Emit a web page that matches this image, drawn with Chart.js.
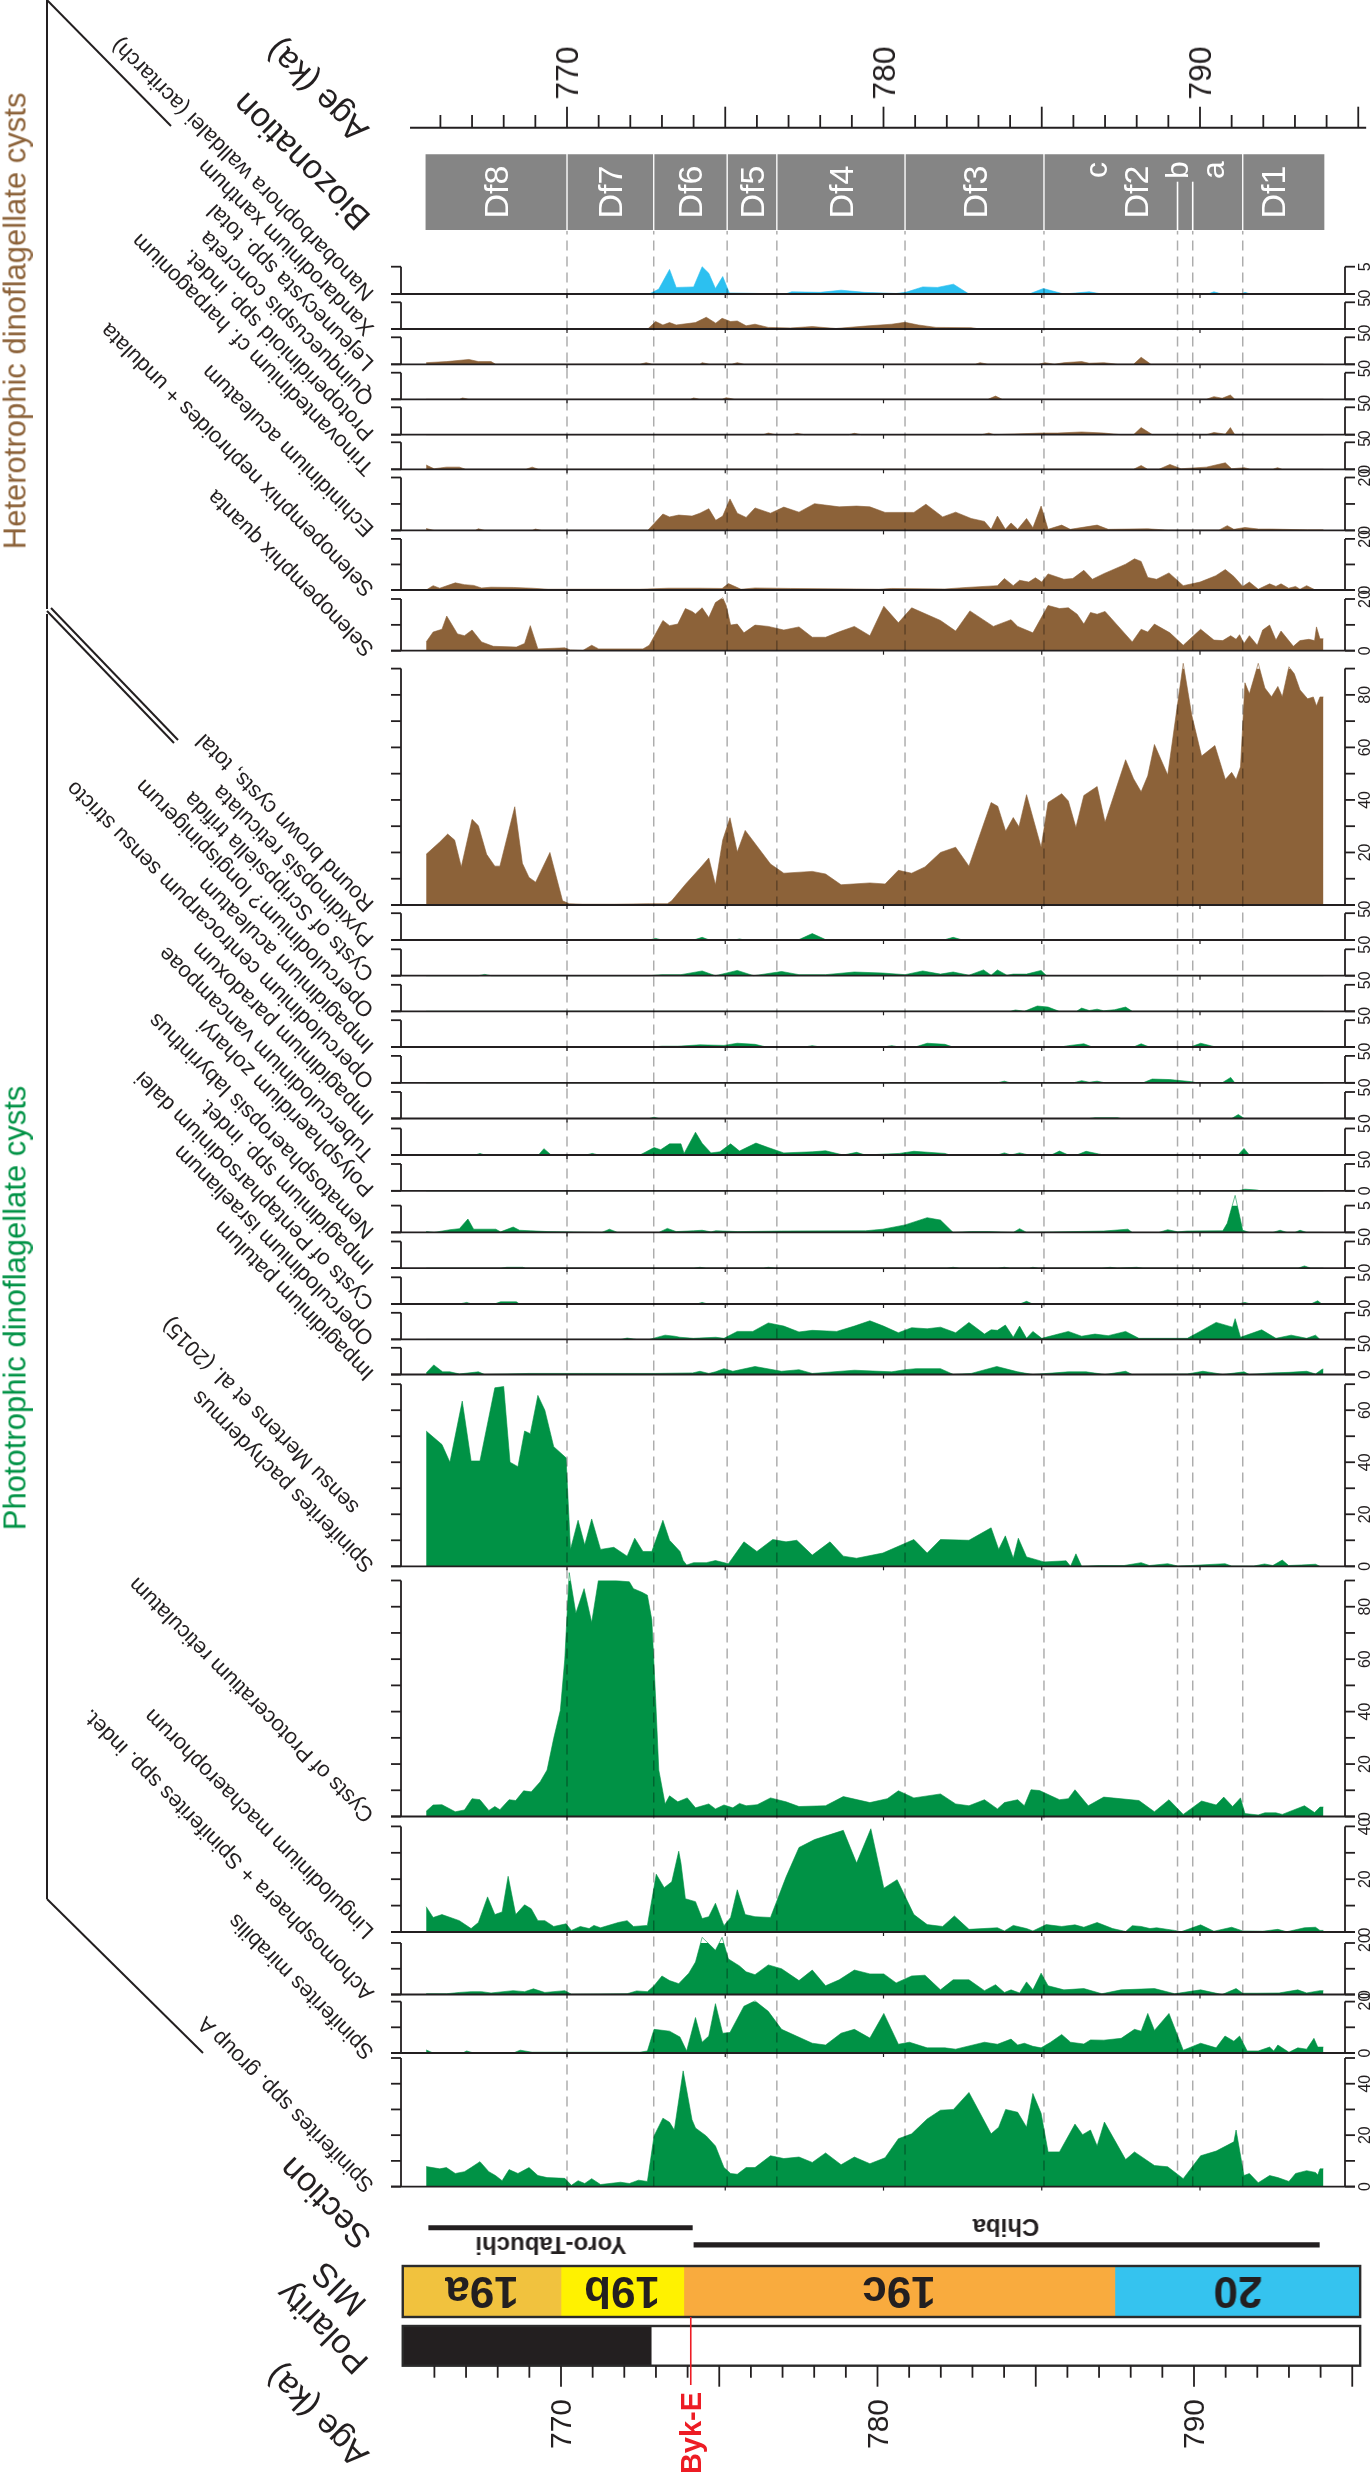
<!DOCTYPE html>
<html>
<head>
<meta charset="utf-8">
<script src="https://cdn.jsdelivr.net/npm/chart.js@4.4.1/dist/chart.umd.min.js"></script>
<style>
  html, body { margin: 0; padding: 0; background: #fff; }
  #page { position: relative; width: 1372px; height: 2482px; overflow: hidden;
          font-family: "Liberation Sans", Arial, sans-serif; color: #231f20; }
  #page canvas { position: absolute; }
  .diag { position: absolute; white-space: nowrap; transform-origin: 0 50%; transform: rotate(-135deg); }
  .rot { position: absolute; white-space: nowrap; line-height: 1; }
</style>
</head>
<body>
<div id="page"></div>
<script>
// ---- values: [age (ka), percent] ----
const nanobarbophora = [[765.6,0],[772.6,0],[772.9,0.9],[773.24,4.5],[773.45,1.2],[774.0,1.3],[774.27,5],[774.48,3.8],[774.69,1],[774.92,3.2],[775.13,0.2],[776.9,0],[777.1,0.4],[778.0,0.3],[778.66,0.7],[779.4,0.3],[780.4,0.1],[780.7,0.3],[781.24,1.3],[781.7,1.2],[782.21,1.8],[782.7,0],[784.6,0],[785.05,1],[785.7,0],[786.5,0.4],[786.9,0],[790.25,0],[790.44,0.4],[790.7,0],[791.3,0],[791.42,0.3],[791.6,0],[793.9,0]];
const xandarodinium = [[765.6,0],[772.55,0],[772.8,1.4],[773.03,0.75],[773.24,1.2],[773.45,0.75],[774.06,1.2],[774.4,2.2],[774.7,1.1],[774.9,2],[775.17,1.4],[775.38,1.5],[775.66,0.6],[775.94,0.9],[776.36,0.3],[777.06,0.2],[777.75,0.45],[778.5,0.1],[779.43,0.55],[780.26,0.9],[780.68,1.25],[781.1,0.75],[781.66,0.3],[782.77,0.25],[783.05,0],[793.9,0]];
const lejeunecysta = [[765.55,0.3],[766.2,0.5],[766.9,0.9],[767.2,0.5],[767.6,0.5],[767.75,0],[772.3,0],[772.5,0.3],[772.7,0],[774.2,0],[774.27,0.3],[774.5,0],[775.2,0],[775.38,0.3],[775.6,0],[782.9,0],[783.05,0.3],[783.3,0],[784.9,0],[785.1,0.3],[785.4,0],[785.7,0.3],[786.26,0.5],[786.5,0.2],[786.96,0.3],[787.4,0],[787.9,0],[788.14,1.3],[788.45,0],[793.9,0]];
const quinquecuspis = [[765.55,0],[766.6,0],[766.7,0.25],[766.9,0],[773.9,0],[774.0,0.25],[774.2,0],[774.9,0],[775.03,0.3],[775.3,0],[783.3,0],[783.54,0.6],[783.75,0],[790.2,0],[790.44,0.5],[790.7,0.2],[790.96,0.8],[791.1,0],[793.9,0]];
const protoperidinioid = [[765.55,0],[776.2,0],[776.36,0.3],[776.6,0],[777.1,0],[777.27,0.25],[777.5,0],[778.9,0],[779.08,0.25],[779.3,0],[783.1,0],[783.33,0.3],[783.5,0],[785.0,0.3],[785.5,0.3],[786.26,0.5],[786.96,0.3],[787.5,0],[787.9,0],[788.14,1.3],[788.5,0],[790.2,0],[790.44,0.4],[790.8,0.1],[790.96,1.3],[791.1,0],[793.9,0]];
const trinovantedinium = [[765.55,0.8],[765.8,0.1],[766.19,0.4],[766.6,0.4],[766.8,0],[768.7,0],[768.9,0.4],[769.1,0],[787.9,0],[788.14,0.7],[788.35,0],[788.7,0],[789.05,0.9],[789.4,0.1],[790.2,0.4],[790.8,1.2],[791.0,0.1],[791.4,0.3],[791.6,0],[792.3,0],[792.45,0.3],[792.6,0],[793.9,0]];
const echinidinium = [[765.55,0.7],[765.8,0],[767.1,0],[767.2,0.6],[767.4,0],[768.9,0],[769.0,0.5],[769.2,0],[772.55,0],[773.03,6.2],[773.24,5.1],[773.53,5.8],[773.95,5.4],[774.2,6.5],[774.48,8.2],[774.7,3.8],[774.92,5.4],[775.15,11.9],[775.38,6.5],[775.66,4.9],[775.94,8.5],[776.43,6.5],[776.85,8.8],[777.33,6.9],[777.82,10.1],[778.6,8.9],[779.15,9.2],[779.57,8.9],[780.05,6.8],[780.96,6.8],[781.34,9.9],[781.87,5.1],[782.28,6.9],[782.77,4.5],[783.19,3.4],[783.4,0.4],[783.6,5.4],[783.85,0.4],[784.03,2.8],[784.24,0.4],[784.52,4.5],[784.72,1.0],[784.98,9.2],[785.2,0.4],[785.63,2.0],[785.9,0.4],[786.0,0.6],[786.75,2.0],[787.1,0.4],[788.35,0.6],[789.0,0.1],[790.6,0.1],[790.86,1.8],[791.07,0.4],[791.42,1.1],[791.85,0.5],[792.26,0.5],[793.4,0.2],[793.9,0.2]];
const selenoNephroides = [[765.55,0],[765.77,1.7],[765.98,0.7],[766.47,2.8],[766.76,2.1],[767.05,1.8],[767.3,0.8],[767.6,1.1],[768.3,1.0],[768.9,0.7],[769.4,0.3],[772.3,0.3],[773.2,0.7],[774.2,0.7],[774.9,0.6],[775.1,2.5],[775.5,0.3],[775.94,0.8],[777.06,0.6],[779.15,0.4],[779.85,0.3],[780.26,0.6],[781.94,0.4],[782.63,1.0],[783.6,1.7],[783.82,4.5],[784.1,1.7],[784.3,3.8],[784.59,3.1],[784.8,4.8],[785.0,3.1],[785.2,6.3],[785.7,4.2],[785.98,4.5],[786.33,7.7],[786.6,4.2],[786.96,6.4],[787.65,10.1],[787.93,12.2],[788.14,11.2],[788.35,4.9],[788.63,4.2],[789.02,6.7],[789.47,1.7],[790.0,3.1],[790.5,5.6],[790.8,8.0],[791.07,5.3],[791.35,1.4],[791.56,3.1],[791.84,0.3],[792.2,2.4],[792.4,1.4],[792.56,2.4],[792.8,0.7],[793.02,1.4],[793.16,0.3],[793.37,1.7],[793.65,0]];
const selenoQuanta = [[765.55,3.4],[765.77,7.2],[766.05,8.3],[766.2,13.4],[766.54,6.5],[766.76,5.8],[767.0,8.0],[767.3,3.4],[767.67,1.7],[768.4,1.4],[768.66,2.8],[768.84,9.7],[769.08,0.7],[769.93,1.1],[770.1,0.3],[770.5,0.1],[770.78,2.1],[771.0,0.7],[772.4,0.7],[772.6,2.1],[773.03,11.7],[773.24,9.7],[773.5,10.3],[773.74,16.3],[773.95,15.2],[774.06,14.2],[774.27,16.6],[774.48,12.8],[774.69,18.6],[774.92,20.5],[775.03,17.5],[775.17,9.9],[775.38,10.3],[775.59,6.9],[775.94,9.9],[776.36,9.4],[776.85,8.0],[777.33,9.2],[777.75,5.2],[778.17,5.2],[778.6,7.3],[779.08,9.4],[779.57,5.8],[780.01,17.2],[780.47,10.8],[780.89,16.6],[781.8,11.7],[782.28,7.6],[782.73,15.4],[783.47,9.4],[784.03,12.0],[784.24,9.4],[784.72,6.9],[785.2,17.5],[785.56,16.3],[785.84,16.6],[786.12,14.1],[786.33,10.3],[786.54,14.8],[786.75,14.1],[787.0,15.2],[787.86,3.4],[788.14,8.3],[788.35,7.2],[788.56,10.3],[789.05,6.9],[789.47,2.1],[790.02,8.3],[790.44,4.1],[790.72,3.9],[790.97,5.8],[791.14,4.4],[791.25,6.2],[791.39,2.8],[791.56,5.8],[791.81,2.1],[791.98,8.0],[792.2,9.9],[792.4,4.1],[792.56,7.6],[792.95,1.7],[793.16,3.9],[793.44,4.4],[793.62,3.9],[793.68,9.2],[793.79,4.6],[793.9,4.6]];
const roundBrown = [[765.55,19.3],[765.98,24.0],[766.23,27.0],[766.45,24.7],[766.66,14.5],[767.0,32.6],[767.2,30.2],[767.46,19.3],[767.72,14.8],[767.88,14.8],[768.35,37.4],[768.59,15.9],[768.8,10.5],[769.01,8.7],[769.46,20.0],[769.86,1.6],[770.07,0.5],[770.5,0.3],[771.5,0.3],[772.6,0.5],[773.17,0.5],[773.3,1.5],[773.75,8],[774.2,14],[774.48,17.9],[774.69,7.7],[774.92,24.7],[775.15,33.2],[775.38,20.2],[775.63,28.4],[776.43,15.6],[776.85,12.1],[777.75,12.8],[778.17,11.8],[778.66,7.7],[779.57,8.4],[780.05,8.0],[780.47,13.2],[780.89,12.1],[781.31,14.5],[781.8,20.0],[782.28,22.0],[782.7,14.8],[783.4,39.0],[783.61,37.6],[783.86,28.1],[784.1,33.3],[784.28,29.8],[784.52,42.0],[784.98,22.0],[785.2,39.0],[785.63,42.4],[785.84,39.6],[786.08,29.5],[786.33,41.7],[786.75,45.1],[787.0,31.5],[787.65,55.3],[787.9,48.1],[788.14,43.1],[788.35,49.2],[788.56,61.1],[788.98,49.5],[789.47,92],[789.74,72.3],[790.05,56.7],[790.47,60.7],[790.8,47.8],[791.0,50.5],[791.14,47.8],[791.28,52.6],[791.42,84.6],[791.56,80.4],[791.84,92],[792.05,82.6],[792.26,79.3],[792.46,83.2],[792.6,79.3],[792.81,90.7],[792.98,88.0],[793.16,81.9],[793.4,78.5],[793.58,79.2],[793.68,75.8],[793.79,79.2],[793.9,79.2]];
const pyxidinopsis = [[765.55,0],[772.6,0],[772.8,0.3],[773.0,0],[774.0,0],[774.27,0.5],[774.5,0],[775.3,0],[775.45,0.2],[775.6,0],[777.3,0],[777.75,1.2],[778.2,0],[781.9,0],[782.2,0.5],[782.5,0],[793.9,0]];
const scrippsiella = [[765.55,0],[767.2,0],[767.4,0.25],[767.6,0],[772.6,0],[773.0,0.2],[773.6,0.2],[774.27,0.9],[774.69,0],[775.38,1.0],[775.9,0],[776.78,0.8],[777.33,0.2],[778.17,0.2],[779.08,0.7],[779.98,0.5],[780.68,0.2],[781.24,0.9],[781.8,0.3],[782.2,0.7],[782.7,0.1],[783.16,1.1],[783.4,0.1],[783.6,1.1],[783.9,0.1],[784.1,0.3],[784.52,0.3],[784.98,1.0],[785.15,0],[793.9,0]];
const longispinigerum = [[765.55,0],[784.0,0],[784.17,0.25],[784.45,0],[784.86,1.0],[785.2,0.8],[785.55,0],[786.1,0],[786.26,0.6],[786.5,0.15],[786.75,0.4],[786.96,0.1],[787.3,0.3],[787.65,0.8],[787.86,0],[793.9,0]];
const impAculeatum = [[765.55,0],[772.7,0],[773.0,0.15],[773.5,0.15],[774.2,0.4],[774.96,0.3],[775.38,0.7],[775.94,0.5],[776.3,0],[777.5,0],[777.75,0.25],[778.0,0],[780.0,0],[780.26,0.25],[780.5,0],[781.0,0],[781.38,0.7],[781.94,0.5],[782.2,0],[785.6,0],[785.84,0.25],[786.33,0.6],[786.6,0],[787.9,0],[788.14,0.6],[788.4,0],[789.7,0],[790.02,0.7],[790.5,0],[793.9,0]];
const centrocarpum = [[765.55,0],[783.6,0],[783.82,0.3],[784.0,0],[786.0,0],[786.26,0.4],[786.5,0.1],[786.75,0.3],[787.0,0],[788.2,0],[788.49,0.7],[789.05,0.6],[789.74,0.2],[789.9,0],[790.7,0],[790.97,1.0],[791.1,0],[793.9,0]];
const paradoxum = [[765.55,0],[772.6,0],[772.75,0.25],[772.9,0],[786.5,0],[786.68,0.15],[787.4,0.15],[787.5,0],[791.0,0],[791.21,0.75],[791.4,0],[793.9,0]];
const tuberculodinium = [[765.55,0],[767.1,0],[767.25,0.3],[767.4,0],[769.1,0],[769.27,1.2],[769.5,0],[770.6,0],[770.8,0.3],[771.0,0],[772.3,0],[772.4,0.3],[772.75,1.4],[772.96,1.0],[773.24,2.1],[773.6,2.1],[773.7,0.3],[774.06,4.3],[774.27,2.2],[774.55,0.4],[774.83,0.6],[775.17,2.1],[775.45,0.75],[775.97,2.25],[776.36,1.4],[776.85,0.4],[777.75,0.6],[778.17,0.8],[778.73,0],[779.15,0.5],[779.43,0],[780.5,0.3],[780.96,0.7],[781.94,0.3],[782.1,0],[783.6,0],[783.82,0.4],[784.03,0],[784.3,0.4],[784.6,0],[785.3,0],[785.56,0.75],[785.84,0],[786.1,0],[786.4,0.7],[786.8,0.2],[786.96,0],[791.2,0],[791.39,1.25],[791.56,0],[793.9,0]];
const polysphaeridium = [[765.55,0],[791.2,0],[791.42,0.3],[791.8,0.15],[791.9,0],[793.9,0]];
const nematosphaeropsis = [[765.55,0.15],[765.8,0],[766.3,0.5],[766.6,0.7],[766.87,2.5],[767.05,0.6],[767.75,0.6],[767.9,0.1],[768.3,1.0],[768.5,0.4],[768.84,0.3],[769.4,0.15],[771.1,0],[771.34,0.6],[771.6,0],[772.9,0],[773.17,0.75],[773.45,0.15],[774.0,0.3],[774.27,0.4],[774.55,0.1],[774.7,0.3],[775.4,0.15],[776.78,0.25],[779.43,0.3],[779.98,0.6],[780.68,1.4],[781.38,2.75],[781.8,2.3],[782.2,0],[782.77,0.15],[783.33,0.15],[784.1,0],[784.3,0.7],[784.52,0],[786.96,0.25],[787.72,0.6],[787.86,0],[788.7,0],[788.98,0.5],[789.3,0.1],[789.6,0.25],[790.72,0.3],[790.86,1.7],[791.11,6.9],[791.35,0.4],[791.56,0],[792.3,0],[792.53,0.4],[792.75,0],[793.0,0],[793.16,0.4],[793.37,0],[793.9,0]];
const impIndet = [[765.55,0],[767.9,0],[768.1,0.15],[768.6,0.15],[768.7,0],[774.0,0],[774.2,0.15],[774.4,0],[776.2,0],[776.36,0.15],[776.6,0],[782.0,0],[782.2,0.15],[782.4,0],[783.6,0],[783.82,0.15],[784.0,0],[784.6,0],[784.72,0.15],[784.9,0],[786.9,0],[787.16,0.15],[787.4,0],[788.0,0.15],[788.2,0],[793.1,0],[793.3,0.4],[793.5,0],[793.9,0]];
const pentapharsodinium = [[765.55,0],[766.6,0],[766.83,0.3],[767.0,0],[767.7,0],[767.9,0.4],[768.4,0.4],[768.5,0],[774.1,0],[774.27,0.3],[774.45,0],[784.3,0],[784.52,0.5],[784.72,0],[791.2,0],[791.42,0.3],[791.6,0],[793.5,0],[793.72,0.6],[793.85,0],[793.9,0]];
const israelianum = [[765.55,0],[771.7,0],[771.9,0.25],[772.2,0],[772.6,0],[773.1,0.8],[773.4,0.6],[773.57,0.4],[773.99,0.2],[774.7,0.4],[774.96,0.2],[775.38,1.5],[775.87,1.5],[776.36,3.1],[776.85,2.5],[777.33,1.4],[777.75,1.7],[778.52,1.5],[779.08,2.5],[779.57,3.5],[780.0,2.5],[780.47,1.25],[780.89,2.2],[781.38,2.0],[781.8,2.3],[782.28,1.25],[782.7,3.2],[783.19,1.0],[783.4,1.8],[783.6,1.7],[783.85,2.7],[784.1,0.4],[784.3,2.5],[784.52,0.2],[784.72,1.5],[785.0,0.2],[785.84,1.5],[786.26,0.6],[786.68,1.0],[787.1,0.7],[787.65,1.5],[788.07,0.2],[789.6,0.2],[790.0,1.5],[790.51,3.2],[791.03,2.3],[791.11,3.9],[791.28,0.4],[791.95,1.8],[792.4,0.2],[792.88,0.8],[793.37,0.2],[793.65,0.8],[793.79,0]];
const patulum = [[765.55,0.3],[765.79,1.8],[766.07,0.5],[766.3,0.5],[766.6,0.1],[767.2,0.5],[767.4,0],[768.8,0.2],[770.53,0.2],[772.8,0.2],[773.97,0.3],[774.2,0.6],[774.48,0.2],[774.69,0.5],[774.96,1.1],[775.24,0.6],[775.94,1.5],[776.78,0.6],[777.33,0.9],[777.75,0.2],[779.08,0.8],[780.26,0.5],[780.68,0.9],[781.03,1.1],[781.8,1.1],[782.21,0],[782.77,0.2],[783.58,1.5],[784.24,0.5],[784.72,0],[785.84,0.5],[786.4,0.5],[787.0,0],[787.65,0.6],[787.86,0],[789.6,0.1],[790.09,0.6],[790.44,0.3],[790.72,0],[791.39,0.5],[791.56,0],[792.25,0.3],[792.81,0.4],[793.37,0.6],[793.65,0.1],[793.86,1.0],[793.9,1.0]];
const pachydermus = [[765.55,52],[766.05,46.8],[766.3,40],[766.69,63.5],[766.97,40.5],[767.25,40.5],[767.72,68.6],[768.0,69.1],[768.2,40],[768.45,38.3],[768.66,52],[768.84,51],[769.08,65.7],[769.3,60],[769.58,46],[769.97,41.7],[770.11,6.5],[770.35,17.7],[770.56,8.2],[770.78,18.2],[771.06,6.5],[771.48,7.3],[771.9,3.9],[772.14,10.8],[772.4,5.7],[772.68,5.7],[773.03,17.7],[773.24,10],[773.57,5.7],[773.67,2.2],[773.78,0.5],[774.0,1.4],[774.4,1.4],[774.69,2.2],[775.1,1.0],[775.59,9.4],[776.0,5.7],[776.5,10.3],[776.92,9.4],[777.26,10],[777.75,4.3],[778.31,9.4],[778.73,3.9],[779.15,3.1],[779.98,5.1],[780.96,10.3],[781.38,5.1],[781.8,10.3],[782.7,10],[783.4,14.8],[783.64,6.5],[783.85,11.7],[784.1,3.1],[784.26,10.8],[784.52,3.6],[785.07,1.7],[785.77,2.1],[785.91,0],[786.08,4.8],[786.26,0],[786.82,0.3],[787.6,0.3],[788.14,1.4],[788.4,0.3],[788.98,1.0],[789.3,0.1],[789.7,0.3],[790.79,1.0],[791.0,0.1],[791.7,0.1],[792.04,0.9],[792.3,0.3],[792.6,2.4],[792.8,0.3],[793.2,0.5],[793.65,0.8],[793.79,0]];
const protoceratium = [[765.55,2],[765.77,4.4],[766.05,4.5],[766.47,1.8],[766.76,2.5],[767.0,6.8],[767.25,6.4],[767.53,2.3],[767.72,3.8],[767.88,2.6],[768.17,6.4],[768.38,6.1],[768.63,9.8],[768.87,9.4],[769.15,13.2],[769.37,17.7],[769.58,29.8],[769.79,40.5],[769.93,60],[770.07,93],[770.28,77.5],[770.54,86.9],[770.78,74],[770.99,89.9],[771.55,89.9],[771.97,89.5],[772.1,86.9],[772.37,85.5],[772.54,84.4],[772.68,75],[772.8,45],[772.9,17.7],[773.1,4.8],[773.24,7.9],[773.5,5.6],[773.8,7.1],[774.06,3.3],[774.48,4.8],[774.69,2.9],[774.96,4.4],[775.24,3.3],[775.45,5.0],[775.66,4.1],[776.01,4.5],[776.43,7.1],[776.92,5.6],[777.33,3.8],[778.17,4.1],[778.73,7.6],[779.57,5.3],[780.12,6.8],[780.47,9.8],[780.96,7.1],[781.8,8.6],[782.28,4.8],[782.7,4.1],[783.19,6.4],[783.6,2.9],[783.82,5.3],[784.24,6.4],[784.45,4.1],[784.66,10.2],[784.93,9.9],[785.56,6.4],[785.84,6.8],[786.05,10.2],[786.47,4.1],[786.96,7.4],[788.07,6.1],[788.56,1.8],[789.02,6.4],[789.47,0.8],[790.05,5.9],[790.51,4.4],[790.75,7.4],[791.03,3.8],[791.28,7.1],[791.42,1.1],[791.84,0.6],[792.05,1.4],[792.4,1.4],[792.6,0.8],[793.3,4.1],[793.62,1.5],[793.79,3.6],[793.9,3.6]];
const lingulodinium = [[765.55,9.6],[765.77,5.5],[766.05,6.6],[766.6,4.3],[766.97,1.3],[767.2,3.6],[767.49,13.3],[767.72,6.6],[767.95,7.6],[768.14,21.1],[768.38,6.6],[768.66,10.3],[768.87,8.8],[769.08,4.3],[769.3,4.3],[769.58,2.1],[769.97,3.1],[770.14,0.6],[770.42,2.1],[770.7,1.3],[770.85,2.5],[771.06,1.6],[771.62,3.6],[771.9,4.3],[772.1,2.1],[772.54,2.5],[772.82,21.9],[773.07,16.8],[773.31,19],[773.53,30.6],[773.6,26.1],[773.74,12.6],[774.06,11.5],[774.27,5.1],[774.48,5.8],[774.69,10.9],[774.96,2.4],[775.17,5.5],[775.38,16],[775.63,6.6],[775.94,5.8],[776.43,5.5],[776.92,20.8],[777.33,32],[777.82,35],[778.73,38.5],[779.15,26.1],[779.6,39.1],[780.01,16.6],[780.43,19.8],[780.96,6.6],[781.38,2.8],[781.87,2.1],[782.24,6.1],[782.7,1.0],[783.6,1.6],[783.82,0.4],[784.1,2.5],[784.52,1.3],[784.72,0.4],[785.14,2.8],[785.63,2.1],[786.05,2.7],[786.33,1.8],[786.75,3.6],[787.24,1.3],[787.65,0.2],[787.86,2.4],[788.14,2.1],[788.42,1.3],[788.63,1.6],[789.2,0.6],[789.4,0.1],[790.02,2.7],[790.44,0.3],[791.0,1.8],[791.35,0.4],[791.98,0.3],[792.46,1.0],[792.74,0.1],[793.3,1.6],[793.65,1.8],[793.79,0.6],[793.9,0.6]];
const achomosphaera = [[765.55,0.3],[766.2,0.3],[766.6,0.8],[766.97,1.1],[767.3,1.1],[767.6,0.6],[768.3,1.5],[768.66,1.1],[768.94,2.2],[769.3,0.8],[769.93,1.5],[770.14,0.1],[771.9,0.3],[772.2,1.4],[772.54,1.1],[772.75,3.4],[773.0,7.2],[773.24,5.4],[773.53,4.2],[773.85,8.3],[774.06,12.6],[774.27,22.2],[774.69,17.2],[774.9,22.2],[775.1,13.8],[775.45,11.1],[775.66,8.8],[775.94,7.7],[776.36,11.5],[776.78,10],[777.33,5.4],[777.75,9.5],[778.17,3.4],[778.6,5.7],[779.08,9.5],[779.57,8.0],[780.01,8.0],[780.4,4.5],[780.89,7.2],[781.31,7.5],[781.8,1.8],[782.2,5.7],[782.7,5.7],[783.19,1.5],[783.54,3.8],[783.82,0.8],[784.03,1.8],[784.3,0.6],[784.52,4.9],[784.72,1.8],[784.98,8.3],[785.2,3.4],[785.7,1.8],[786.33,2.3],[786.9,0.3],[787.51,1.8],[788.56,2.3],[789.2,0.3],[790.02,1.8],[790.7,0],[791.14,2.3],[791.35,0.5],[791.8,0.5],[792.5,0.6],[793.09,1.8],[793.37,0.6],[793.79,1.5],[793.9,1.5]];
const mirabilis = [[765.55,1.2],[765.77,0],[766.7,0],[766.83,0.8],[767.05,0],[768.3,0],[768.52,1.1],[768.9,0.3],[772.3,0.3],[772.54,0.8],[772.75,9.2],[773.24,8.5],[773.57,6.2],[773.78,0.8],[774.06,13.8],[774.27,4.2],[774.48,6.6],[774.69,19.2],[774.92,7.7],[775.15,8.0],[775.59,18.2],[775.94,20.3],[776.36,16.2],[776.78,9.2],[777.75,3.8],[778.17,3.1],[778.66,7.7],[779.08,9.2],[779.57,5.8],[780.01,15.4],[780.47,3.4],[780.82,4.2],[781.38,2.0],[781.94,2.0],[782.28,1.5],[783.19,4.2],[783.6,3.4],[784.03,5.4],[784.24,3.1],[784.45,3.8],[784.72,2.6],[784.98,2.0],[785.28,4.2],[785.63,7.2],[785.91,4.2],[786.33,3.5],[786.54,5.1],[786.96,5.0],[787.51,5.7],[787.93,9.2],[788.14,8.5],[788.35,15.4],[788.56,8.8],[789.02,15.4],[789.47,1.1],[790.02,3.8],[790.51,2.0],[790.79,6.6],[791.07,4.6],[791.25,6.6],[791.49,0.8],[791.84,0.8],[792.2,2.3],[792.33,0.8],[792.46,3.1],[792.81,0.3],[793.09,2.0],[793.37,1.5],[793.6,5.7],[793.72,2.3],[793.9,2.3]];
const groupA = [[765.55,7.8],[765.98,6.9],[766.19,7.4],[766.47,5.1],[766.76,5.8],[766.97,7.4],[767.25,9.7],[767.53,5.8],[767.74,4.3],[767.95,2.3],[768.17,6.6],[768.45,5.1],[768.8,7.4],[769.08,4.3],[769.37,3.5],[769.93,3.2],[770.14,0.5],[770.35,2.3],[770.56,1.2],[770.78,3.1],[771.06,0.8],[771.69,1.7],[771.97,1.2],[772.26,2.5],[772.54,2.0],[772.75,19.7],[773.03,26.6],[773.24,25],[773.39,22],[773.67,45],[773.95,26],[774.06,22.8],[774.4,19.7],[774.69,15.8],[774.96,7.4],[775.17,5.1],[775.38,4.8],[775.66,7.4],[775.94,7.4],[776.43,12],[776.85,10.9],[777.33,11.5],[777.75,9.4],[778.17,13.1],[778.66,8.5],[779.08,11.5],[779.57,8.9],[780.05,11.2],[780.47,18.6],[780.89,20.5],[781.38,26.3],[781.8,29.7],[782.21,30],[782.7,36.6],[783.4,20.5],[783.64,23.1],[783.86,30],[784.24,28.9],[784.52,23.1],[784.72,36.2],[784.98,28.5],[785.2,13.5],[785.56,13.5],[786.05,24.3],[786.29,20.2],[786.54,22],[786.75,15.8],[786.98,25.1],[787.65,10.5],[787.93,13.5],[788.56,8.2],[788.98,7.7],[789.47,3.1],[790.02,12],[790.51,13.8],[791.07,17.4],[791.14,22],[791.39,4.3],[791.56,5.1],[791.84,1.5],[792.2,4.3],[792.46,3.5],[792.81,2.0],[793.02,5.1],[793.37,6.2],[793.65,5.5],[793.72,4.5],[793.79,6.9],[793.9,6.9]];

// zonation, stages, polarity, sections (ages in ka)
const zoneBounds = [765.51, 770.0, 772.74, 775.06, 776.63, 780.68, 785.07, 791.35, 793.95];
const zoneNames = ['Df8', 'Df7', 'Df6', 'Df5', 'Df4', 'Df3', 'Df2', 'Df1'];
const zoneLabelAges = [767.76, 771.37, 773.9, 775.85, 778.66, 782.88, 787.97, 792.3];
const subzoneNames = ['c', 'b', 'a'];
const subzoneLabelAges = [786.71, 789.26, 790.41];
const subzoneBounds = [789.29, 789.77];
const zoneLines = [770.0, 772.74, 775.06, 776.63, 780.68, 785.07, 789.29, 789.77, 791.35];
const misBounds = [765.0, 770.0, 773.88, 787.5, 795.25];
const misNames = ['19a', '19b', '19c', '20'];
const polarityBounds = [765.0, 772.85, 795.25];
const sectionNames = ['Yoro-Tabuchi', 'Chiba'];
const sectionRanges = [[765.82, 774.15], [774.2, 793.96]];
const bykeAge = 774.1;
const ageTicks = [766, 767, 768, 769, 770, 771, 772, 773, 774, 775, 776, 777, 778, 779, 780, 781, 782, 783, 784, 785, 786, 787, 788, 789, 790, 791, 792, 793, 794, 795];
const ageLabels = [770, 780, 790];
const baseTicks = [770, 775, 780, 785, 790];

// ---- colours / layout ----
const BROWN = '#8c6239', GREEN = '#009245', BLUE = '#2cc0f0', INK = '#231f20';
const MIS_COLORS = ['#f1c23e', '#fff200', '#f9ab3e', '#35c3ef'];
const PAGE_W = 1372;
const X770 = 567, PXK = 31.65;          // pixel of 770 ka, pixels per ka
const AX_L = 401, AX_R = 1345;          // left / right strip axes
const BSHIFT = -6;                      // lower block is set a few px left
const px = a => X770 + (a - 770) * PXK;
const ageAt = x => 770 + (x - X770) / PXK;
const XMIN = ageAt(AX_L), XMAX = ageAt(AX_R);

Chart.defaults.font.family = '"Liberation Sans", Arial, sans-serif';
const page = document.getElementById('page');

function addCanvas(l, t, w, h) {
  const c = document.createElement('canvas');
  c.width = w; c.height = h;
  c.style.left = l + 'px'; c.style.top = t + 'px';
  c.style.width = w + 'px'; c.style.height = h + 'px';
  page.appendChild(c);
  return c;
}
function baseOpts(extra) {
  return Object.assign({
    responsive: false, animation: false, events: [], devicePixelRatio: 1,
    plugins: { legend: { display: false }, tooltip: { enabled: false } }
  }, extra);
}
function line(ctx, x1, y1, x2, y2) { ctx.beginPath(); ctx.moveTo(x1, y1); ctx.lineTo(x2, y2); ctx.stroke(); }

// ---- the strips ----
const HET = [
  { name: 'Nanobarbophora walldalei (acritarch)', data: nanobarbophora, top: 266.7, base: 294.0, max: 5, color: BLUE },
  { name: 'Xandarodinium xanthum', data: xandarodinium, top: 302.3, base: 329.0, max: 5 },
  { name: 'Lejeunecysta spp. total', data: lejeunecysta, top: 337.3, base: 364.3, max: 5 },
  { name: 'Quinquecuspis concreta', data: quinquecuspis, top: 372.7, base: 399.3, max: 5 },
  { name: 'Protoperidinioid spp. indet.', data: protoperidinioid, top: 407.3, base: 434.7, max: 5 },
  { name: 'Trinovantedinium cf. harpagonium', data: trinovantedinium, top: 442.3, base: 469.3, max: 5 },
  { name: 'Echinidinium aculeatum', data: echinidinium, top: 477.5, base: 530.4, max: 20 },
  { name: 'Selenopemphix nephroides + undulata', data: selenoNephroides, top: 538.9, base: 590.0, max: 20 },
  { name: 'Selenopemphix quanta', data: selenoQuanta, top: 599.0, base: 650.7, max: 20 },
  { name: 'Round brown cysts, total', data: roundBrown, top: 668.6, base: 905.0, max: 90 }
];
const PHO = [
  { name: 'Pyxidinopsis reticulata', data: pyxidinopsis, top: 913.2, base: 940.0, max: 5 },
  { name: 'Cysts of Scrippsiella trifida', data: scrippsiella, top: 949.3, base: 975.7, max: 5 },
  { name: 'Operculodinium? longispinigerum', data: longispinigerum, top: 984.8, base: 1011.3, max: 5 },
  { name: 'Impagidinium aculeatum', data: impAculeatum, top: 1020.2, base: 1047.0, max: 5 },
  { name: 'Operculodinium centrocarpum sensu stricto', data: centrocarpum, top: 1055.9, base: 1082.8, max: 5 },
  { name: 'Impagidinium paradoxum', data: paradoxum, top: 1092.0, base: 1118.5, max: 5 },
  { name: 'Tuberculodinium vancampoae', data: tuberculodinium, top: 1128.5, base: 1155.0, max: 5 },
  { name: 'Polysphaeridium zoharyi', data: polysphaeridium, top: 1164.0, base: 1190.8, max: 5 },
  { name: 'Nematosphaeropsis labyrinthus', data: nematosphaeropsis, top: 1205.6, base: 1232.4, max: 5 },
  { name: 'Impagidinium spp. indet.', data: impIndet, top: 1241.5, base: 1268.1, max: 5 },
  { name: 'Cysts of Pentapharsodinium dalei', data: pentapharsodinium, top: 1277.3, base: 1304.0, max: 5 },
  { name: 'Operculodinium israelianum', data: israelianum, top: 1312.8, base: 1339.4, max: 5 },
  { name: 'Impagidinium patulum', data: patulum, top: 1347.8, base: 1374.5, max: 5 },
  { name: 'Spiniferites pachydermus', name2: 'sensu Mertens et al. (2015)', data: pachydermus, top: 1384.2, base: 1566.3, max: 70 },
  { name: 'Cysts of Protoceratium reticulatum', data: protoceratium, top: 1580.5, base: 1816.5, max: 90 },
  { name: 'Lingulodinium machaerophorum', data: lingulodinium, top: 1826.4, base: 1932.0, max: 40 },
  { name: 'Achomosphaera + Spiniferites spp. indet.', data: achomosphaera, top: 1943.0, base: 1994.5, max: 20 },
  { name: 'Spiniferites mirabilis', data: mirabilis, top: 2001.6, base: 2053.0, max: 20 },
  { name: 'Spiniferites spp. group A', data: groupA, top: 2058.0, base: 2186.6, max: 50 }
];
HET.forEach(s => { if (!s.color) s.color = BROWN; });
PHO.forEach(s => { s.color = GREEN; });

const STRIP_LEFT = 380, PADV = 10;

function stripFrame(s) {
  const step = s.max === 5 ? 5 : 10;
  const ticks = [], labels = [];
  for (let v = 0; v <= s.max + 0.001; v += step) {
    ticks.push(v);
    if (s.max === 5 || v % 20 === 0) labels.push(v);
  }
  return {
    id: 'stripFrame',
    afterDatasetsDraw(chart) {
      const { ctx, chartArea: a, scales: { x, y } } = chart;
      const y0 = y.getPixelForValue(0), yT = y.getPixelForValue(s.max);
      ctx.save();
      ctx.strokeStyle = INK; ctx.lineWidth = 1.8; ctx.lineCap = 'butt';
      line(ctx, a.left - 10, y0, a.right + 10, y0);
      line(ctx, a.left, y0, a.left, yT);
      line(ctx, a.right, y0, a.right, yT);
      ticks.forEach(v => {
        const yy = y.getPixelForValue(v);
        line(ctx, a.left - 10, yy, a.left, yy);
        line(ctx, a.right, yy, a.right + 10, yy);
      });
      ctx.lineWidth = 1.2;
      baseTicks.forEach(t => { const xx = x.getPixelForValue(t); line(ctx, xx, y0, xx, y0 + 4); });
      ctx.fillStyle = INK;
      ctx.font = '16px "Liberation Sans", Arial, sans-serif';
      ctx.textAlign = 'center'; ctx.textBaseline = 'middle';
      labels.forEach(v => {
        ctx.save();
        ctx.translate(a.right + 21, y.getPixelForValue(v));
        ctx.rotate(-Math.PI / 2);
        ctx.fillText(String(v), 0, 0);
        ctx.restore();
      });
      ctx.restore();
    }
  };
}

function stripChart(s) {
  const top = Math.floor(s.top - PADV), h = Math.ceil(s.base + PADV) - top;
  const cv = addCanvas(STRIP_LEFT, top, PAGE_W - STRIP_LEFT, h);
  new Chart(cv, {
    type: 'line',
    data: { datasets: [{
      data: s.data.map(([a, v]) => ({ x: a, y: v })),
      fill: 'origin', backgroundColor: s.color, borderColor: s.color,
      borderWidth: 0.6, pointRadius: 0, tension: 0, clip: false
    }] },
    options: baseOpts({
      layout: { padding: { left: AX_L - STRIP_LEFT, right: PAGE_W - AX_R, top: s.top - top, bottom: top + h - s.base } },
      scales: {
        x: { type: 'linear', min: XMIN, max: XMAX, display: false },
        y: { type: 'linear', min: 0, max: s.max, display: false }
      }
    }),
    plugins: [stripFrame(s)]
  });
}
HET.concat(PHO).forEach(stripChart);

// ---- biozonation boxes + top age axis ----
(function () {
  const H = 240, boxTop = 153.7, boxBot = 230.7;
  const cv = addCanvas(STRIP_LEFT, 0, PAGE_W - STRIP_LEFT, H);
  new Chart(cv, {
    type: 'bar',
    data: { labels: ['zone'], datasets: zoneNames.map((n, i) => ({
      label: n, data: [[zoneBounds[i], zoneBounds[i + 1]]],
      backgroundColor: '#858585', borderColor: '#ffffff', borderWidth: 1, borderSkipped: false,
      grouped: false, barPercentage: 1, categoryPercentage: 1
    })) },
    options: baseOpts({
      indexAxis: 'y',
      layout: { padding: { left: AX_L - STRIP_LEFT, right: PAGE_W - AX_R, top: boxTop, bottom: H - boxBot } },
      scales: { x: { type: 'linear', min: XMIN, max: XMAX, display: false }, y: { display: false } }
    }),
    plugins: [{
      id: 'topAxis',
      afterDraw(chart) {
        const { ctx, scales: { x } } = chart;
        const yA = 127.7;
        ctx.save();
        ctx.strokeStyle = INK; ctx.lineWidth = 2;
        line(ctx, x.getPixelForValue(765.04), yA, x.getPixelForValue(795.25), yA);
        ctx.lineWidth = 1.8;
        ageTicks.forEach(t => {
          const xx = x.getPixelForValue(t);
          line(ctx, xx, yA, xx, yA - (t % 5 === 0 ? 21 : 12.7));
        });
        ctx.strokeStyle = '#ffffff'; ctx.lineWidth = 1.6;
        subzoneBounds.forEach(b => { const xx = x.getPixelForValue(b); line(ctx, xx, 181.7, xx, boxBot); });
        ctx.restore();
      }
    }]
  });
})();

// ---- dashed zone boundaries + group brackets (overlay) ----
(function () {
  const yTop = 230.7, yBot = 2186.6;
  const cv = addCanvas(0, 0, PAGE_W, 2482);
  cv.style.pointerEvents = 'none';
  new Chart(cv, {
    type: 'line',
    data: { datasets: zoneLines.map(b => ({
      data: [{ x: b, y: 0 }, { x: b, y: 1 }],
      borderColor: 'rgba(0,0,0,0.32)', borderWidth: 1.5, borderDash: [10, 6],
      pointRadius: 0, fill: false
    })) },
    options: baseOpts({
      layout: { padding: { left: AX_L, right: PAGE_W - AX_R, top: yTop, bottom: 2482 - yBot } },
      scales: {
        x: { type: 'linear', min: XMIN, max: XMAX, display: false },
        y: { type: 'linear', min: 0, max: 1, display: false }
      }
    }),
    plugins: [{
      id: 'brackets',
      afterDraw(chart) {
        const ctx = chart.ctx;
        ctx.save();
        ctx.strokeStyle = INK; ctx.lineWidth = 2;
        line(ctx, 171, 126, 47, 0);
        line(ctx, 47, 0, 47, 609);
        line(ctx, 47, 611, 174, 743);
        line(ctx, 51, 608, 178, 740);
        line(ctx, 47, 614, 47, 1899);
        line(ctx, 47, 1899, 203, 2053);
        ctx.restore();
      }
    }]
  });
})();

// ---- section bars ----
(function () {
  const top = 2210.7, h = 51;   // two rows of 17px centred at 2227.7 and 2244.7
  const L = STRIP_LEFT + BSHIFT, W = PAGE_W - L;
  const x0 = misBounds[0], x1 = misBounds[misBounds.length - 1];
  const cv = addCanvas(L, Math.round(top), W, h);
  new Chart(cv, {
    type: 'bar',
    data: { labels: sectionNames, datasets: [{
      data: sectionRanges, backgroundColor: INK, barThickness: 4.5, borderSkipped: false
    }] },
    options: baseOpts({
      indexAxis: 'y',
      layout: { padding: { left: px(x0) + BSHIFT - L, right: L + W - (px(x1) + BSHIFT), top: 8.5 + (top - Math.round(top)), bottom: h - 8.5 - 34 } },
      scales: { x: { type: 'linear', min: x0, max: x1, display: false }, y: { display: false } }
    })
  });
})();

// ---- MIS ----
(function () {
  const top = 2266, bot = 2317;
  const L = STRIP_LEFT + BSHIFT, W = PAGE_W - L;
  const x0 = misBounds[0], x1 = misBounds[misBounds.length - 1];
  const cv = addCanvas(L, top - 4, W, bot - top + 8);
  new Chart(cv, {
    type: 'bar',
    data: { labels: ['mis'], datasets: misNames.map((n, i) => ({
      label: n, data: [[misBounds[i], misBounds[i + 1]]], backgroundColor: MIS_COLORS[i],
      borderWidth: 0, grouped: false, barPercentage: 1, categoryPercentage: 1
    })) },
    options: baseOpts({
      indexAxis: 'y',
      layout: { padding: { left: px(x0) + BSHIFT - L, right: L + W - (px(x1) + BSHIFT), top: 4, bottom: 4 } },
      scales: { x: { type: 'linear', min: x0, max: x1, display: false }, y: { display: false } }
    }),
    plugins: [{
      id: 'misBorder',
      afterDraw(chart) {
        const { ctx, chartArea: a } = chart;
        ctx.save(); ctx.strokeStyle = '#2b2b2b'; ctx.lineWidth = 2.4;
        ctx.strokeRect(a.left, a.top, a.right - a.left, a.bottom - a.top);
        ctx.restore();
      }
    }]
  });
})();

// ---- polarity + lower age axis + Byk-E ----
(function () {
  const cTop = 2310, top = 2326, bot = 2365.7;
  const L = STRIP_LEFT + BSHIFT, W = PAGE_W - L, H = 2482 - cTop;
  const x0 = polarityBounds[0], x1 = polarityBounds[polarityBounds.length - 1];
  const cv = addCanvas(L, cTop, W, H);
  new Chart(cv, {
    type: 'bar',
    data: { labels: ['polarity'], datasets: [
      { data: [[polarityBounds[0], polarityBounds[1]]], backgroundColor: '#231f20', borderWidth: 0, grouped: false, barPercentage: 1, categoryPercentage: 1 },
      { data: [[polarityBounds[1], polarityBounds[2]]], backgroundColor: '#ffffff', borderWidth: 0, grouped: false, barPercentage: 1, categoryPercentage: 1 }
    ] },
    options: baseOpts({
      indexAxis: 'y',
      layout: { padding: { left: px(x0) + BSHIFT - L, right: L + W - (px(x1) + BSHIFT), top: top - cTop, bottom: cTop + H - bot } },
      scales: { x: { type: 'linear', min: x0, max: x1, display: false }, y: { display: false } }
    }),
    plugins: [{
      id: 'polFrame',
      afterDraw(chart) {
        const { ctx, chartArea: a, scales: { x } } = chart;
        ctx.save();
        ctx.strokeStyle = '#2b2b2b'; ctx.lineWidth = 2.4;
        ctx.strokeRect(a.left, a.top, a.right - a.left, a.bottom - a.top);
        ctx.strokeStyle = INK; ctx.lineWidth = 1.8;
        ageTicks.forEach(t => {
          const xx = x.getPixelForValue(t);
          line(ctx, xx, a.bottom, xx, a.bottom + (t % 5 === 0 ? 21 : 12));
        });
        ctx.strokeStyle = '#ed1c24'; ctx.lineWidth = 1.6;
        const xb = x.getPixelForValue(bykeAge);
        line(ctx, xb, 2317 - cTop, xb, 2385 - cTop);
        ctx.restore();
      }
    }]
  });
})();

// ---- text ----
function diag(text, ax, ay, size, extra) {
  const d = document.createElement('div');
  d.className = 'diag';
  d.textContent = text;
  const lh = Math.round(size * 1.2);
  d.style.fontSize = size + 'px';
  d.style.lineHeight = lh + 'px';
  d.style.height = lh + 'px';
  d.style.left = ax + 'px';
  d.style.top = (ay - lh / 2) + 'px';
  if (extra) Object.assign(d.style, extra);
  page.appendChild(d);
}
function rot(text, cx, cy, size, angle, extra) {
  const d = document.createElement('div');
  d.className = 'rot';
  d.textContent = text;
  d.style.fontSize = size + 'px';
  d.style.left = cx + 'px';
  d.style.top = cy + 'px';
  d.style.transform = 'translate(-50%,-50%) rotate(' + angle + 'deg)';
  if (extra) Object.assign(d.style, extra);
  page.appendChild(d);
}

HET.concat(PHO).forEach(s => {
  diag(s.name, 370, s.base + 2.5, 22);
  if (s.name2) diag(s.name2, 355, s.base - 55.5, 22);
});

diag('Age (ka)', 362, 136, 34);
diag('Biozonation', 364, 224, 34);
diag('Section', 365, 2243, 34);
diag('MIS', 360, 2310, 34);
diag('Polarity', 362, 2368, 34);
diag('Age (ka)', 362, 2461, 34);

rot('Heterotrophic dinoflagellate cysts', 15, 321, 31, -90, { color: BROWN });
rot('Phototrophic dinoflagellate cysts', 15, 1308, 31, -90, { color: GREEN });

ageLabels.forEach(a => rot(String(a), px(a), 72.5, 32, -90));
ageLabels.forEach(a => rot(String(a), px(a) + BSHIFT, 2424, 30, -90));
rot('Byk-E', px(bykeAge) + BSHIFT, 2433, 29, -90, { color: '#ed1c24', fontWeight: 'bold' });

zoneNames.forEach((n, i) => rot(n, px(zoneLabelAges[i]), 192, 34, -90, { color: '#ffffff' }));
subzoneNames.forEach((n, i) => rot(n, px(subzoneLabelAges[i]), 170, 32, -90, { color: '#ffffff' }));

misNames.forEach((n, i) => rot(n, px((misBounds[i] + misBounds[i + 1]) / 2) + BSHIFT, 2292, 44, 180, { fontWeight: 'bold', color: '#231f20' }));
rot(sectionNames[0], 551, 2245, 24, 180, { fontWeight: 'bold' });
rot(sectionNames[1], 1006, 2227, 24, 180, { fontWeight: 'bold' });
</script>
</body>
</html>
